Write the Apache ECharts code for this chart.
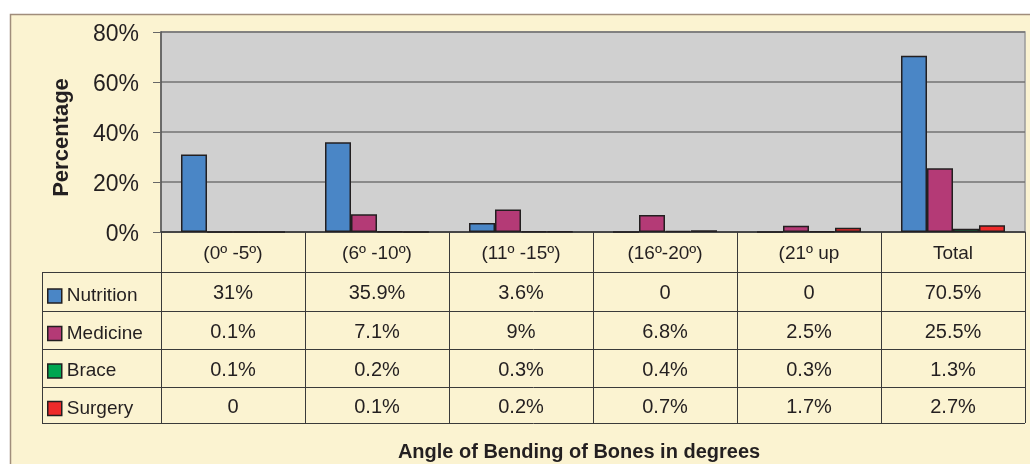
<!DOCTYPE html>
<html><head><meta charset="utf-8">
<script src="https://cdn.jsdelivr.net/npm/echarts@6/dist/echarts.min.js"></script>
<style>html,body{margin:0;padding:0;background:#fff}#c{width:1030px;height:464px}</style>
</head><body><div id="c"></div>
<script>
const categories = ['(0º -5º)', '(6º -10º)', '(11º -15º)', '(16º-20º)', '(21º up', 'Total'];
const seriesNames = ['Nutrition', 'Medicine', 'Brace', 'Surgery'];
const nutrition = [31, 35.9, 3.6, 0, 0, 70.5];
const medicine = [0.1, 7.1, 9, 6.8, 2.5, 25.5];
const brace = [0.1, 0.2, 0.3, 0.4, 0.3, 1.3];
const surgery = [0, 0.1, 0.2, 0.7, 1.7, 2.7];
const yTicks = [0, 20, 40, 60, 80];
const xTitle = 'Angle of Bending of Bones in degrees';
const yTitle = 'Percentage';

const colors = ['#4A86C6', '#B43A76', '#00A651', '#EE2A2A'];
const FONT = '"Liberation Sans", Arial, sans-serif';
const TEXT = '#231F20';
const LINE = '#3a3a3a';
const seriesData = [nutrition, medicine, brace, surgery];
const fmt = v => v === 0 ? '0' : v + '%';

// layout (pixels)
const gridL = 161, gridR = 5, gridT = 32, gridB = 232;
const W = 1030, H = 464;
const baseY = H - gridB;           // 232
const rowOffsets = [0, 40, 79, 117, 155, 191];
const legendLeft = 42;

const xAxes = [{
  type: 'category', data: categories, position: 'bottom', offset: 0,
  axisLine: {show: true, lineStyle: {color: '#333', width: 1.5}},
  axisTick: {show: true, interval: 0, length: rowOffsets[1] - rowOffsets[0], lineStyle: {color: LINE, width: 1}},
  axisLabel: {interval: 0, margin: (rowOffsets[1] - rowOffsets[0]) / 2 + 2, verticalAlign: 'middle',
    fontSize: 19, color: TEXT, fontFamily: FONT},
  splitLine: {show: false}
}].concat(seriesData.map((d, k) => {
  const h = rowOffsets[k + 2] - rowOffsets[k + 1];
  return {
    type: 'category', data: categories, position: 'bottom', offset: rowOffsets[k + 1],
    axisLine: {show: false},
    axisTick: {show: true, interval: 0, length: h, lineStyle: {color: LINE, width: 1}},
    axisLabel: {interval: 0, margin: h / 2 + 2, verticalAlign: 'middle', fontSize: 20, color: TEXT,
      fontFamily: FONT, formatter: (v, i) => fmt(d[i])},
    splitLine: {show: false}
  };
}));

const graphics = [
  {type: 'rect', z: -10, shape: {x: 10.5, y: 14.5, width: 1040, height: 470},
    style: {fill: '#FBF3D1', stroke: '#A08D7B', lineWidth: 1.5}}
];
rowOffsets.slice(1).forEach(o => {
  graphics.push({type: 'line', z: 5, shape: {x1: legendLeft, y1: baseY + o + 0.5, x2: W - gridR, y2: baseY + o + 0.5},
    style: {stroke: LINE, lineWidth: 1}});
});
graphics.push({type: 'line', z: 5, shape: {x1: legendLeft + 0.5, y1: baseY + rowOffsets[1], x2: legendLeft + 0.5, y2: baseY + rowOffsets[5]},
  style: {stroke: LINE, lineWidth: 1}});
graphics.push({type: 'text', z: 5, x: 579, y: 452,
  style: {text: xTitle, fontSize: 20, fontWeight: 'bold', fill: TEXT, fontFamily: FONT, align: 'center', verticalAlign: 'middle'}});

const chart = echarts.init(document.getElementById('c'), null, {renderer: 'canvas'});
chart.setOption({
  animation: false,
  backgroundColor: '#fff',
  grid: {left: gridL, right: gridR, top: gridT, bottom: gridB, show: true,
    backgroundColor: '#D0D0D0', borderColor: '#9a9a9a', borderWidth: 1.5},
  legend: {orient: 'vertical', left: 47, top: 286, padding: 0, itemWidth: 14, itemHeight: 14, itemGap: 17.5,
    icon: 'rect', selectedMode: false, data: seriesNames,
    textStyle: {fontSize: 19, color: TEXT, fontFamily: FONT, lineHeight: 20},
    itemStyle: {borderColor: '#231F20', borderWidth: 1.5}},
  xAxis: xAxes,
  yAxis: {
    type: 'value', min: yTicks[0], max: yTicks[yTicks.length - 1], interval: yTicks[1] - yTicks[0],
    axisLine: {show: true, lineStyle: {color: '#555', width: 1.5}},
    axisTick: {show: true, length: 8, lineStyle: {color: '#666'}},
    axisLabel: {formatter: v => '{a|' + v + '%}', margin: 22,
      rich: {a: {fontSize: 23, color: TEXT, fontFamily: FONT, padding: [5, 0, 0, 0]}}},
    splitLine: {lineStyle: {color: '#737373', width: 1.5}},
    name: yTitle, nameLocation: 'middle', nameGap: 88,
    nameTextStyle: {fontSize: 22, fontWeight: 'bold', color: TEXT, fontFamily: FONT, padding: [0, 11, 0, 0]}
  },
  graphic: graphics,
  series: seriesData.map((d, k) => ({
    name: seriesNames[k], type: 'bar', data: d, xAxisIndex: 0, barWidth: 26, barGap: '0%',
    itemStyle: {color: colors[k], borderColor: '#231F20', borderWidth: 1.5}
  }))
});
</script></body></html>
